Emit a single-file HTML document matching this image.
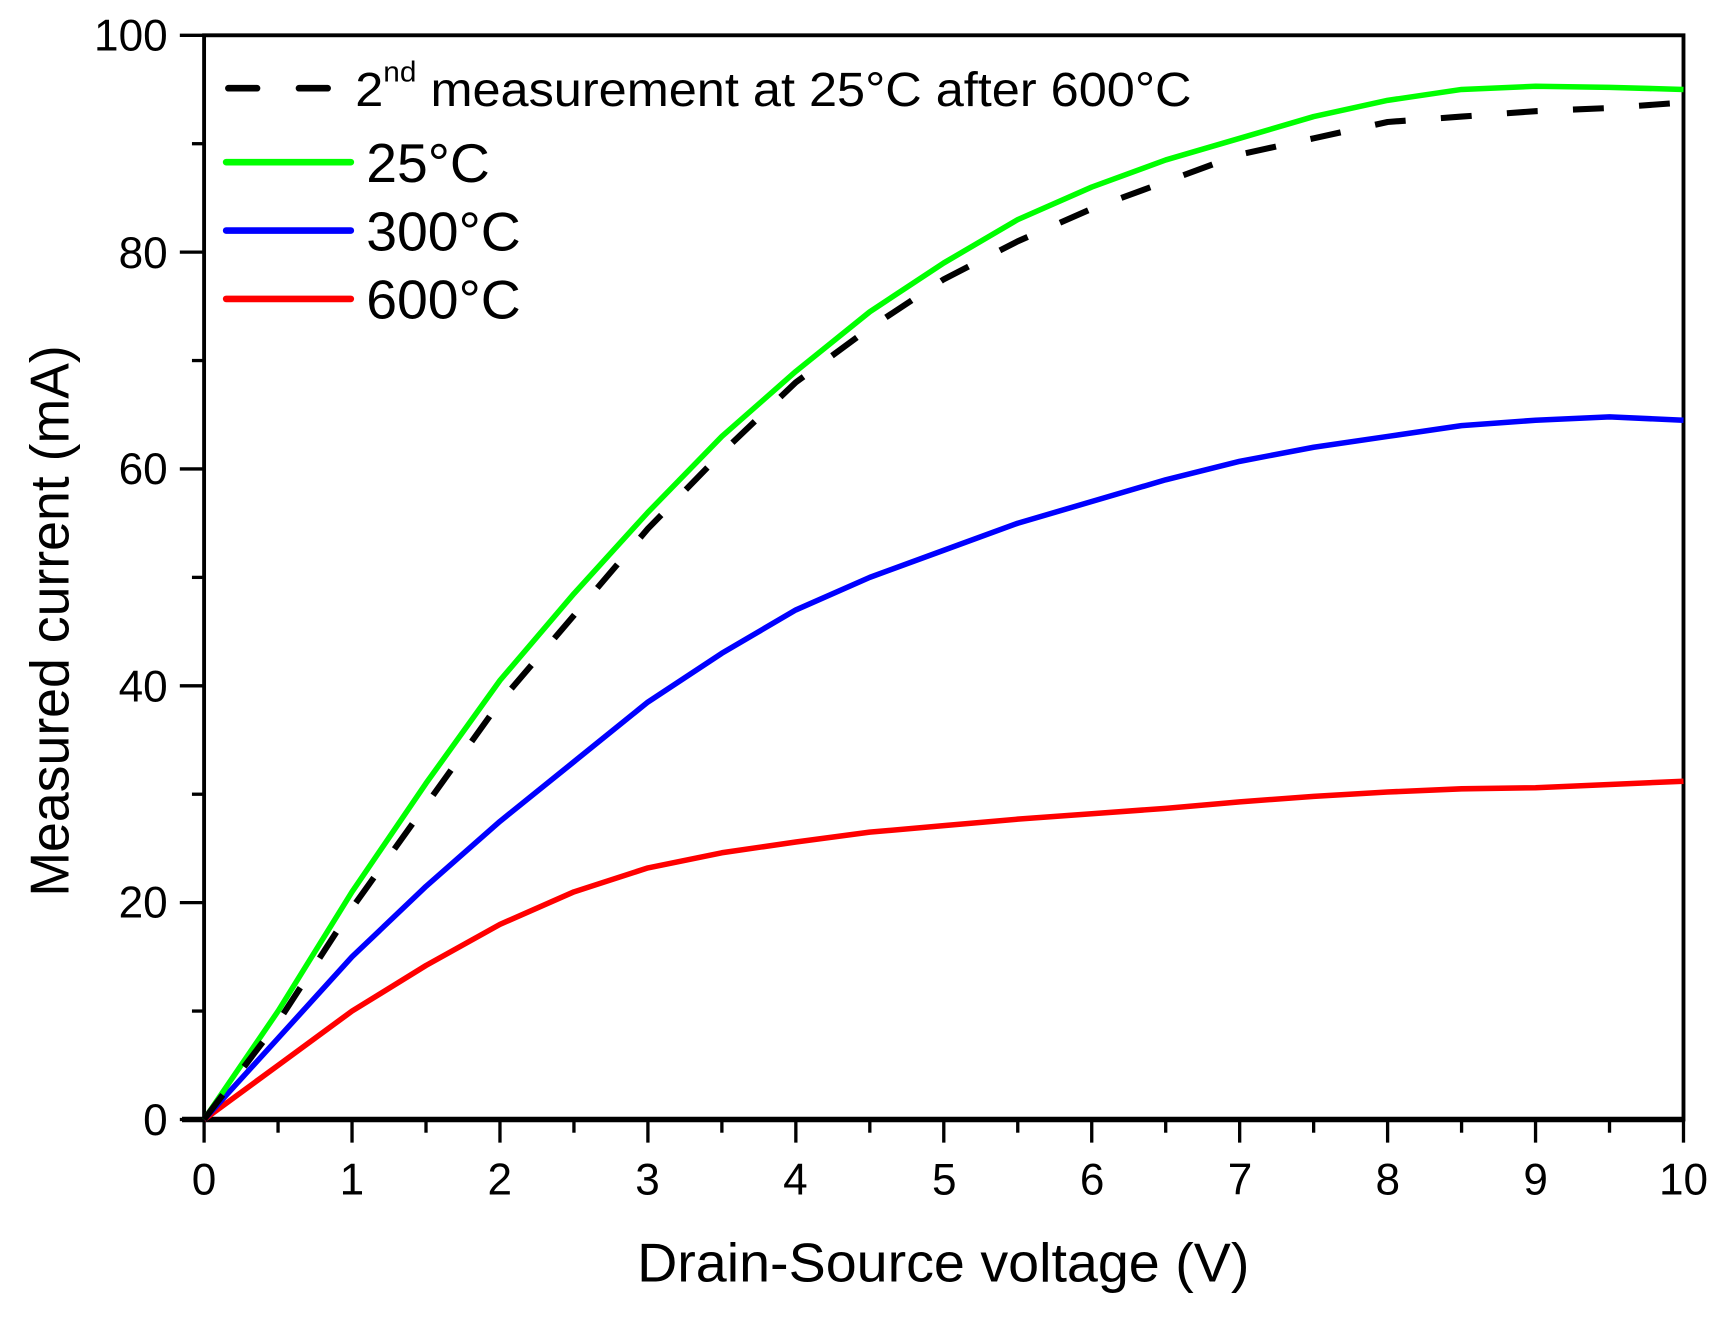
<!DOCTYPE html>
<html><head><meta charset="utf-8"><style>
html,body{margin:0;padding:0;background:#fff;}
svg{display:block;}
text{font-family:"Liberation Sans",Arial,sans-serif;fill:#000;}
</style></head><body>
<svg id="s" width="1721" height="1318" viewBox="0 0 1560 1195" preserveAspectRatio="none" xmlns="http://www.w3.org/2000/svg">
<g id="ticks" stroke="#000" stroke-width="3"></g>
<rect x="185" y="32" width="1341" height="983" fill="none" stroke="#000" stroke-width="3.5"/>
<line x1="165" y1="1015" x2="1527" y2="1015" stroke="#000" stroke-width="5"/>
<g id="curves" fill="none" stroke-width="5" stroke-linejoin="round"></g>
<g font-size="40" text-anchor="end">
<text x="152" y="46">100</text><text x="152" y="243">80</text><text x="152" y="439">60</text>
<text x="152" y="636">40</text><text x="152" y="832">20</text><text x="152" y="1029">0</text>
</g>
<g font-size="40" text-anchor="middle">
<text x="185" y="1083">0</text><text x="319" y="1083">1</text><text x="453" y="1083">2</text>
<text x="587" y="1083">3</text><text x="721" y="1083">4</text><text x="856" y="1083">5</text>
<text x="990" y="1083">6</text><text x="1124" y="1083">7</text><text x="1258" y="1083">8</text>
<text x="1392" y="1083">9</text><text x="1526" y="1083">10</text>
</g>
<text x="855" y="1162" font-size="50" text-anchor="middle" textLength="555" lengthAdjust="spacingAndGlyphs">Drain-Source voltage (V)</text>
<text transform="translate(62,563) rotate(-90)" font-size="50" text-anchor="middle" textLength="500" lengthAdjust="spacingAndGlyphs">Measured current (mA)</text>
<line x1="207" y1="80" x2="305" y2="80" stroke="#000" stroke-width="6" stroke-dasharray="26,38" stroke-linecap="round"/>
<text x="322" y="96" font-size="44" textLength="758" lengthAdjust="spacingAndGlyphs">2<tspan font-size="26" dy="-22">nd</tspan><tspan dy="22"> measurement at 25°C after 600°C</tspan></text>
<line x1="205" y1="147" x2="318" y2="147" stroke="#00ff00" stroke-width="6" stroke-linecap="round"/>
<text x="332" y="165" font-size="50" textLength="112" lengthAdjust="spacingAndGlyphs">25°C</text>
<line x1="205" y1="209" x2="318" y2="209" stroke="#0000ff" stroke-width="6" stroke-linecap="round"/>
<text x="332" y="227" font-size="50" textLength="140" lengthAdjust="spacingAndGlyphs">300°C</text>
<line x1="205" y1="271" x2="318" y2="271" stroke="#ff0000" stroke-width="6" stroke-linecap="round"/>
<text x="332" y="289" font-size="50" textLength="140" lengthAdjust="spacingAndGlyphs">600°C</text>
</svg>
<script>
var X=function(v){return 185+v*134.1}, Y=function(m){return 1015-m*9.83};
var t=document.getElementById('ticks'),h='';
for(var i=0;i<=20;i++){var x=X(i*0.5);h+='<line x1="'+x+'" y1="1015" x2="'+x+'" y2="'+(i%2?1027:1036)+'"/>';}
for(var j=0;j<=10;j++){var y=Y(j*10);h+='<line x1="'+(j%2?174:163)+'" y1="'+y+'" x2="185" y2="'+y+'"/>';}
t.innerHTML=h;
var D={
g:[0,10,21,31,40.5,48.5,56,63,69,74.5,79,83,86,88.5,90.5,92.5,94,95,95.3,95.2,95],
k:[0,9,19.5,29,38.5,46.5,54.5,61.5,68,73,77.5,81,84,86.5,89,90.5,92,92.5,93,93.3,93.8],
b:[0,7.5,15,21.5,27.5,33,38.5,43,47,50,52.5,55,57,59,60.7,62,63,64,64.5,64.8,64.5],
r:[0,5,10,14.2,18,21,23.2,24.6,25.6,26.5,27.1,27.7,28.2,28.7,29.3,29.8,30.2,30.5,30.6,30.9,31.2]};
function path(a){var s='';for(var i=0;i<a.length;i++){s+=(i?'L':'M')+X(i*0.5).toFixed(1)+','+Y(a[i]).toFixed(1);}return s;}
var c=document.getElementById('curves');
c.innerHTML='<path d="'+path(D.r)+'" stroke="#ff0000"/><path d="'+path(D.b)+'" stroke="#0000ff"/><path d="'+path(D.g)+'" stroke="#00ff00"/><path d="'+path(D.k)+'" stroke="#000" stroke-width="5.5" stroke-dasharray="28,32"/>';
</script>
</body></html>
